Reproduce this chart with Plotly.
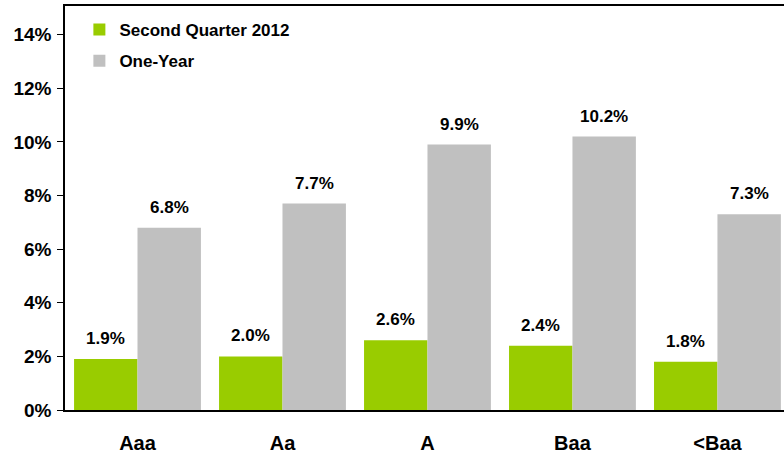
import plotly.graph_objects as go

categories = ["Aaa", "Aa", "A", "Baa", "<Baa"]
quarter_vals = [1.9, 2.0, 2.6, 2.4, 1.8]
year_vals = [6.8, 7.7, 9.9, 10.2, 7.3]
y_ticks = [0, 2, 4, 6, 8, 10, 12, 14]
y_tick_labels = [f"{v}%" for v in y_ticks]

GREEN = "#99CC00"
GRAY = "#C0C0C0"
FONT = "Liberation Sans, Arial, sans-serif"

fig = go.Figure()
fig.add_trace(go.Bar(x=categories, y=quarter_vals, name="Second Quarter 2012",
                     marker=dict(color=GREEN, line=dict(width=0)), legendgroup="a"))
fig.add_trace(go.Bar(x=categories, y=year_vals, name="One-Year",
                     marker=dict(color=GRAY, line=dict(width=0)), legendgroup="b"))

annotations = []
bargap = 0.125
cat_px = 145
bar_px = cat_px * (1 - bargap) / 2
for i, c in enumerate(categories):
    for vals, sign in ((quarter_vals, -1), (year_vals, 1)):
        annotations.append(dict(
            x=i, y=vals[i], xref="x", yref="y", text=f"<b>{vals[i]:.1f}%</b>",
            showarrow=False, xshift=sign * bar_px / 2, yshift=9, yanchor="bottom",
            font=dict(family=FONT, size=17, color="black")))

fig.update_layout(
    width=784, height=453,
    margin=dict(l=65, r=0, t=6, b=43),
    paper_bgcolor="white", plot_bgcolor="white",
    barmode="group", bargap=bargap, bargroupgap=0,
    font=dict(family=FONT, color="black"),
    showlegend=True,
    legend=dict(x=0.02, y=0.985, xanchor="left", yanchor="top",
                font=dict(family=FONT, size=17, color="black", weight="bold"),
                tracegroupgap=6, bgcolor="rgba(0,0,0,0)"),
    annotations=annotations,
    xaxis=dict(type="category", range=[-0.5, 4.459], showline=True, linecolor="black",
               linewidth=1.5, mirror=True, ticks="", showgrid=False, automargin=False,
               tickfont=dict(family=FONT, size=20, color="black", weight="bold"),
               ticklabelstandoff=14),
    yaxis=dict(range=[0, 15.07], tickvals=y_ticks, ticktext=y_tick_labels,
               showline=True, linecolor="black", linewidth=1.5, showgrid=False,
               ticks="outside", ticklen=6, tickcolor="black", tickwidth=1,
               automargin=False, ticklabelstandoff=2,
               tickfont=dict(family=FONT, size=19, color="black", weight="bold"),
               zeroline=False),
)

fig.write_html("out.html", config={"displayModeBar": False})
with open("out.html", "r", encoding="utf-8") as f:
    html = f.read()
html = html.replace("<body>", '<body style="margin:0;padding:0;overflow:hidden">', 1)
with open("out.html", "w", encoding="utf-8") as f:
    f.write(html)
